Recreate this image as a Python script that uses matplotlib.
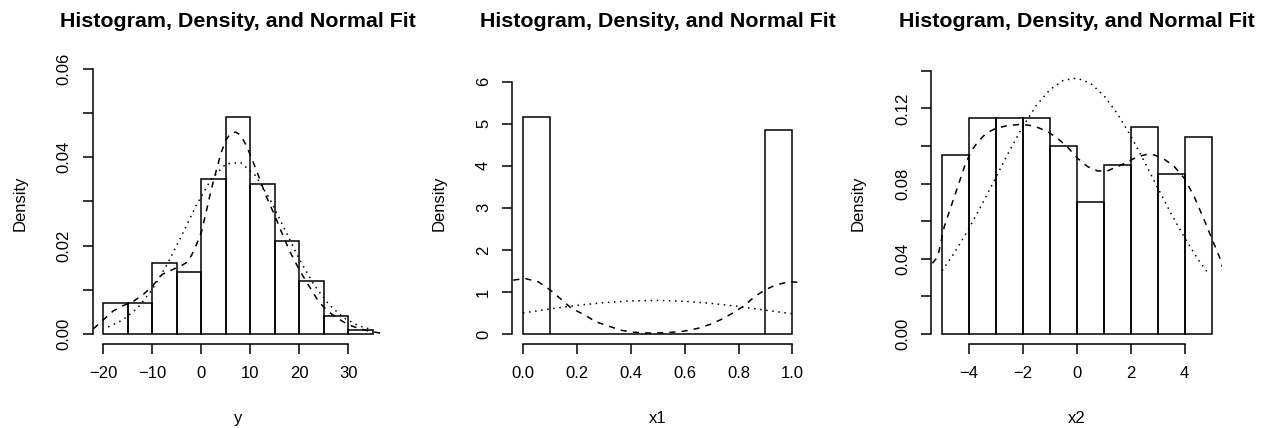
import matplotlib
matplotlib.use('Agg')
import matplotlib.pyplot as plt

plt.rcParams['font.family'] = ['Liberation Sans', 'DejaVu Sans']

# =============================================================================
# 1. DATA
# =============================================================================
# --- panel 1: y ---
y_edges = [-20, -15, -10, -5, 0, 5, 10, 15, 20, 25, 30, 35]
y_hist = [0.007, 0.007, 0.016, 0.014, 0.035, 0.049, 0.034, 0.021, 0.012, 0.004, 0.001]
y_kde_x = [-22.0, -20.0, -18.0, -16.0, -14.0, -12.0, -10.0, -8.0, -6.0, -4.0, -3.0,
           -2.0, -1.0, 0.0, 1.0, 2.0, 3.0, 4.0, 5.0, 6.0, 7.0, 8.0, 9.0, 10.0, 11.0,
           12.0, 13.0, 14.0, 15.0, 16.0, 18.0, 20.0, 22.0, 24.0, 26.0, 28.0, 30.0,
           32.0, 34.0, 36.0, 37.1]
y_kde = [0.0012, 0.0032, 0.0052, 0.0064, 0.0073, 0.0088, 0.0108, 0.0135, 0.0145,
         0.0155, 0.0162, 0.0178, 0.0202, 0.0230, 0.0277, 0.0326, 0.0368, 0.0409,
         0.0439, 0.0454, 0.0457, 0.0450, 0.0430, 0.0405, 0.0377, 0.0348, 0.0318,
         0.0292, 0.0268, 0.0240, 0.0188, 0.0145, 0.0108, 0.0072, 0.0050, 0.0034,
         0.0021, 0.0013, 0.0007, 0.0003, 0.0001]
y_norm_x = [-19, -16, -13, -10, -7, -4, -1, 2, 5, 8, 11, 14, 17, 20, 23, 26, 29, 32, 35]
y_norm = [0.0016, 0.0032, 0.0059, 0.0101, 0.0157, 0.0223, 0.0292, 0.0350, 0.0385,
          0.0388, 0.0359, 0.0305, 0.0237, 0.0169, 0.0111, 0.0067, 0.0037, 0.0019,
          0.0009]

# --- panel 2: x1 ---
x1_edges = [0.0, 0.1, 0.2, 0.3, 0.4, 0.5, 0.6, 0.7, 0.8, 0.9, 1.0]
x1_hist = [5.15, 0, 0, 0, 0, 0, 0, 0, 0, 4.85]
x1_kde_x = [-0.036, 0.007, 0.057, 0.10, 0.137, 0.18, 0.23, 0.27, 0.317, 0.36, 0.40,
            0.45, 0.50, 0.55, 0.60, 0.65, 0.70, 0.744, 0.787, 0.824, 0.86, 0.899,
            0.936, 0.979, 1.0, 1.035]
x1_kde = [1.28, 1.32, 1.24, 1.05, 0.85, 0.61, 0.45, 0.29, 0.19, 0.095, 0.048, 0.024,
          0.024, 0.04, 0.07, 0.135, 0.24, 0.37, 0.53, 0.69, 0.89, 1.05, 1.16, 1.23,
          1.24, 1.22]
x1_norm_x = [0.0, 0.1, 0.2, 0.3, 0.4, 0.5, 0.6, 0.7, 0.8, 0.9, 1.0]
x1_norm = [0.50, 0.595, 0.68, 0.745, 0.786, 0.798, 0.777, 0.727, 0.654, 0.566, 0.48]

# --- panel 3: x2 ---
x2_edges = [-5, -4, -3, -2, -1, 0, 1, 2, 3, 4, 5]
x2_hist = [0.095, 0.115, 0.115, 0.115, 0.100, 0.070, 0.090, 0.110, 0.085, 0.105]
x2_kde_x = [-5.36, -5.16, -4.92, -4.67, -4.42, -4.17, -3.93, -3.68, -3.37, -3.0, -2.57,
            -2.07, -1.58, -1.08, -0.71, -0.34, 0.03, 0.40, 0.77, 1.14, 1.52, 1.89,
            2.26, 2.57, 2.88, 3.25, 3.62, 3.99, 4.36, 4.73, 4.98, 5.29, 5.40]
x2_kde = [0.0376, 0.0411, 0.0570, 0.0677, 0.0783, 0.0890, 0.0970, 0.1020, 0.1067,
          0.1094, 0.1108, 0.1115, 0.1106, 0.1076, 0.1040, 0.0993, 0.0934, 0.0890,
          0.0867, 0.0868, 0.0890, 0.0916, 0.0943, 0.0954, 0.0952, 0.0929, 0.0890,
          0.0828, 0.0730, 0.0606, 0.0518, 0.0411, 0.0358]
x2_norm_x = [-5.0, -4.5, -4.0, -3.5, -3.0, -2.5, -2.0, -1.5, -1.0, -0.5, 0.0, 0.5,
             1.0, 1.5, 2.0, 2.5, 3.0, 3.5, 4.0, 4.5, 4.9]
x2_norm = [0.0336, 0.0441, 0.0562, 0.0695, 0.0834, 0.0974, 0.1104, 0.1215, 0.1299,
           0.1349, 0.1361, 0.1334, 0.1269, 0.1173, 0.1054, 0.0919, 0.0778, 0.0640,
           0.0512, 0.0397, 0.0318]

# ticks
y_xticks = [-20, -10, 0, 10, 20, 30]
y_xlabels = ['\u221220', '\u221210', '0', '10', '20', '30']
y_yticks = [0, 0.01, 0.02, 0.03, 0.04, 0.05, 0.06]
y_ylabels = ['0.00', '', '0.02', '', '0.04', '', '0.06']

x1_xticks = [0.0, 0.2, 0.4, 0.6, 0.8, 1.0]
x1_xlabels = ['0.0', '0.2', '0.4', '0.6', '0.8', '1.0']
x1_yticks = [0, 1, 2, 3, 4, 5, 6]
x1_ylabels = ['0', '1', '2', '3', '4', '5', '6']

x2_xticks = [-4, -2, 0, 2, 4]
x2_xlabels = ['\u22124', '\u22122', '0', '2', '4']
x2_yticks = [0, 0.02, 0.04, 0.06, 0.08, 0.10, 0.12, 0.14]
x2_ylabels = ['0.00', '', '0.04', '', '0.08', '', '0.12', '']

# =============================================================================
# 2. LAYOUT (pixel positions of the R-style plot regions)
# =============================================================================
W, H = 1271, 428
LW = 1.1

panels = [
    dict(left=92.7, xlim=(-22.16, 37.2), ylim=(-0.00226, 0.0620), xlab='y',
         edges=y_edges, hist=y_hist, kx=y_kde_x, ky=y_kde, nx=y_norm_x, ny=y_norm,
         xt=y_xticks, xtl=y_xlabels, yt=y_yticks, ytl=y_ylabels),
    dict(left=512.2, xlim=(-0.04, 1.04), ylim=(-0.238, 6.513), xlab='x1',
         edges=x1_edges, hist=x1_hist, kx=x1_kde_x, ky=x1_kde, nx=x1_norm_x, ny=x1_norm,
         xt=x1_xticks, xtl=x1_xlabels, yt=x1_yticks, ytl=x1_ylabels),
    dict(left=931.3, xlim=(-5.4, 5.4), ylim=(-0.00532, 0.1457), xlab='x2',
         edges=x2_edges, hist=x2_hist, kx=x2_kde_x, ky=x2_kde, nx=x2_norm_x, ny=x2_norm,
         xt=x2_xticks, xtl=x2_xlabels, yt=x2_yticks, ytl=x2_ylabels),
]
width_px, top_px, bottom_px = 291.0, 60.0, 344.0

fig = plt.figure(figsize=(W / 100, H / 100), dpi=100)

for p in panels:
    ax = fig.add_axes([p['left'] / W, 1 - bottom_px / H,
                       width_px / W, (bottom_px - top_px) / H])
    ax.set_xlim(p['xlim'])
    ax.set_ylim(p['ylim'])

    widths = [b - a for a, b in zip(p['edges'][:-1], p['edges'][1:])]
    ax.bar(p['edges'][:-1], p['hist'], width=widths, align='edge',
           fill=False, edgecolor='black', linewidth=LW)
    ax.plot(p['kx'], p['ky'], color='black', lw=LW, linestyle=(0, (4, 4)))
    ax.plot(p['nx'], p['ny'], color='black', lw=LW, linestyle=(0, (1, 3)))

    for s in ['top', 'right']:
        ax.spines[s].set_visible(False)
    ax.spines['left'].set_bounds(p['yt'][0], p['yt'][-1])
    ax.spines['bottom'].set_bounds(p['xt'][0], p['xt'][-1])
    for s in ['left', 'bottom']:
        ax.spines[s].set_linewidth(LW)

    ax.set_xticks(p['xt'], p['xtl'])
    ax.set_yticks(p['yt'], p['ytl'], rotation=90, va='center')
    ax.tick_params(direction='out', length=7.2, width=LW, labelsize=12)
    ax.tick_params(axis='x', pad=9)
    ax.tick_params(axis='y', pad=8)

    cx = (p['left'] + width_px / 2) / W
    fig.text(cx, 1 - 21.7 / H, 'Histogram, Density, and Normal Fit',
             ha='center', va='center', fontsize=15.4, fontweight='bold')
    fig.text(cx, 1 - 418.5 / H, p['xlab'], ha='center', va='center', fontsize=12)
    fig.text((p['left'] - 72.8) / W, 1 - 203.5 / H, 'Density', rotation=90,
             ha='center', va='center', fontsize=12)

plt.savefig('out.png', dpi=100)
print("Saved: out.png")
